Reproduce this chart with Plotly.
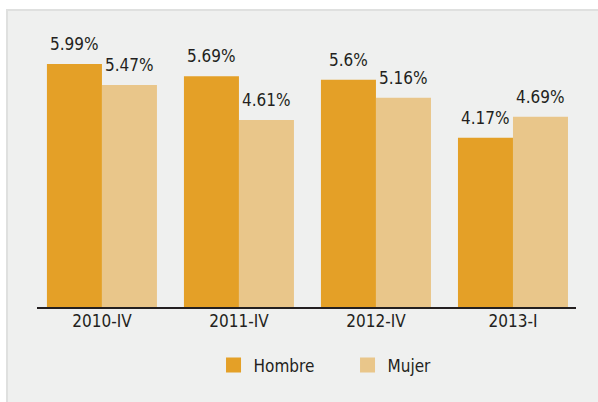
import plotly.graph_objects as go

# Quarterly rates by sex
periodos = ["2010-IV", "2011-IV", "2012-IV", "2013-I"]
hombre = [5.99, 5.69, 5.6, 4.17]
mujer = [5.47, 4.61, 5.16, 4.69]
series = ["Hombre", "Mujer"]

COL_H = "#E4A027"
COL_M = "#E9C68A"
TXT = "#231F20"
PANEL = "#EFF0EF"
FONT = "DejaVu Sans Condensed, sans-serif"

def fmt(v):
    return f"{v:g}%"

fig = go.Figure()
for name, vals, col in [(series[0], hombre, COL_H), (series[1], mujer, COL_M)]:
    fig.add_trace(go.Bar(
        x=periodos, y=vals, name=name, marker=dict(color=col, line=dict(width=0)),
        showlegend=False,
    ))
    # legend swatch
    fig.add_trace(go.Scatter(
        x=[None], y=[None], mode="markers", name=name,
        marker=dict(symbol="square", size=15, color=col, line=dict(width=0)),
    ))

# value labels above each bar of the group
for vals, dx in [(hombre, -27.5), (mujer, 27.5)]:
    for p, v in zip(periodos, vals):
        fig.add_annotation(
            x=p, y=v, text=fmt(v), showarrow=False,
            xanchor="center", yanchor="bottom", xshift=dx, yshift=8,
            font=dict(family=FONT, size=17, color=TXT),
        )

# plot area in pixels: x 37..576, y 23..307
L, R, T, B = 37, 22, 23, 95
W, H = 598, 402
pw, ph = W - L - R, H - T - B

fig.add_shape(
    type="rect", xref="paper", yref="paper", layer="below",
    x0=(7 - L) / pw, x1=(W + 10 - L) / pw,
    y0=(T + ph - (H + 10)) / ph, y1=(T + ph - 10) / ph,
    fillcolor=PANEL, line=dict(color="#DFE0DF", width=2),
)

fig.update_layout(
    width=W, height=H,
    margin=dict(l=L, r=R, t=T, b=B),
    paper_bgcolor="white", plot_bgcolor="rgba(0,0,0,0)",
    barmode="group", bargap=0.197, bargroupgap=0,
    font=dict(family=FONT, color=TXT),
    xaxis=dict(
        range=[-0.474, 3.46], showline=True, linecolor="#231F20", linewidth=2,
        showgrid=False, zeroline=False, ticks="", ticklabelstandoff=-2,
        tickfont=dict(family=FONT, size=17, color=TXT),
    ),
    yaxis=dict(range=[0, 7], visible=False, showgrid=False, zeroline=False),
    legend=dict(
        orientation="h", x=0.3275, xanchor="left", y=-0.206, yanchor="middle",
        font=dict(family=FONT, size=17, color=TXT),
        entrywidth=89, entrywidthmode="pixels", bgcolor="rgba(0,0,0,0)",
    ),
)

fig.write_html("out.html")
